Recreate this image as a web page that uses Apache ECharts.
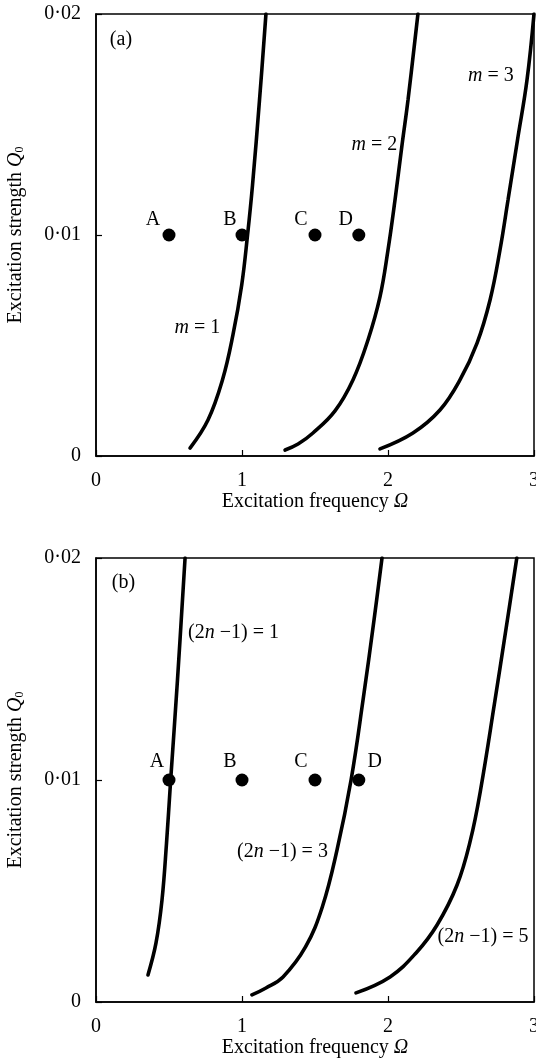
<!DOCTYPE html>
<html>
<head>
<meta charset="utf-8">
<script src="https://cdn.jsdelivr.net/npm/echarts@6/dist/echarts.min.js"></script>
<style>
  html, body { margin: 0; padding: 0; background: #fff; }
  #main { width: 536px; height: 1063px; }
</style>
</head>
<body>
<div id="main"></div>
<script>
// ---- data: [Omega, Q0] ----
const curveM1 = [[0.644, 0.00036], [0.767, 0.00163], [0.866, 0.00344], [0.938, 0.00548], [0.998, 0.00774], [1.038, 0.0100], [1.072, 0.01226], [1.12, 0.01611], [1.164, 0.0200]];
const curveM2 = [[1.295, 0.00027], [1.384, 0.00054], [1.486, 0.00104], [1.637, 0.00204], [1.76, 0.00344], [1.863, 0.00525], [1.945, 0.0072], [2.0, 0.00932], [2.048, 0.01158], [2.096, 0.01407], [2.137, 0.01611], [2.205, 0.0200]];
const curveM3 = [[1.945, 0.00032], [2.171, 0.00104], [2.356, 0.00208], [2.493, 0.00344], [2.61, 0.00511], [2.699, 0.00706], [2.767, 0.00932], [2.822, 0.01158], [2.887, 0.0143], [2.952, 0.01701], [3.0, 0.0200]];

const curveN1 = [[0.356, 0.00122], [0.411, 0.00266], [0.452, 0.00459], [0.483, 0.00716], [0.51, 0.00986], [0.558, 0.0145], [0.61, 0.0200]];
const curveN3 = [[1.068, 0.00032], [1.164, 0.00063], [1.281, 0.00113], [1.435, 0.00248], [1.55, 0.00428], [1.651, 0.00685], [1.747, 0.0100], [1.829, 0.0136], [1.904, 0.0172], [1.959, 0.0200]];
const curveN5 = [[1.781, 0.00041], [2.014, 0.00113], [2.192, 0.00221], [2.336, 0.00347], [2.473, 0.00527], [2.565, 0.0073], [2.634, 0.00955], [2.733, 0.0136], [2.804, 0.01662], [2.882, 0.0200]];

const pointNames = ['A', 'B', 'C', 'D'];
const pointOmega = [0.5, 1.0, 1.5, 1.8];
const pointQ = [0.01, 0.01, 0.01, 0.01];

// annotation text: [Omega, Q0, text]
const notesA = [[0.171, 0.01882, '(a)'], [0.695, 0.00579, '{i|m} = 1'], [1.907, 0.01407, '{i|m} = 2'], [2.705, 0.01719, '{i|m} = 3']];
const notesB = [[0.188, 0.01887, '(b)'], [0.942, 0.01662, '(2{i|n} \u22121) = 1'], [1.277, 0.00676, '(2{i|n} \u22121) = 3'], [2.651, 0.00293, '(2{i|n} \u22121) = 5']];

// label offsets of the A-D markers (px)
const labelOffA = [[-16, -15], [-12, -15], [-14, -15], [-13, -15]];
const labelOffB = [[-12, -18], [-12, -18], [-14, -18], [16, -18]];

const FONT = 'Liberation Serif';
const FS = 20;
const rich = {
  i: { fontFamily: FONT, fontSize: FS, fontStyle: 'italic', color: '#000' },
  a: { fontFamily: FONT, fontSize: FS, color: '#000' },
  s: { fontFamily: FONT, fontSize: 12, color: '#000', padding: [7, 0, 0, 0] }
};

var chartDom = document.getElementById('main');
var myChart = echarts.init(chartDom);

function xAxisFor(idx) {
  return {
    gridIndex: idx,
    type: 'value',
    min: 0,
    max: 3,
    interval: 1,
    name: '{a|Excitation frequency }{i|\u03A9}',
    nameLocation: 'middle',
    nameGap: 36,
    nameTextStyle: { rich: rich },
    axisLine: { lineStyle: { color: '#000', width: 1.5 } },
    axisTick: { inside: true, length: 6, lineStyle: { color: '#000', width: 1.2 } },
    axisLabel: { fontFamily: FONT, fontSize: FS, color: '#000', margin: 15 },
    splitLine: { show: false }
  };
}

function yAxisFor(idx) {
  return {
    gridIndex: idx,
    type: 'value',
    min: 0,
    max: 0.02,
    interval: 0.01,
    name: '{a|Excitation strength }{i|Q}{s|0}',
    nameLocation: 'middle',
    nameGap: 70,
    nameTextStyle: { rich: rich },
    axisLine: { lineStyle: { color: '#000', width: 1.5 } },
    axisTick: { inside: true, length: 6, lineStyle: { color: '#000', width: 1.2 } },
    axisLabel: {
      fontFamily: FONT, fontSize: FS, color: '#000', margin: 15,
      formatter: function (v) { return v === 0 ? '0' : v.toFixed(2).replace('.', '\u00B7'); }
    },
    splitLine: { show: false }
  };
}

function curve(data, idx) {
  return {
    type: 'line',
    xAxisIndex: idx,
    yAxisIndex: idx,
    data: data,
    smooth: 0.4,
    showSymbol: false,
    silent: true,
    lineStyle: { color: '#000', width: 3.6, cap: 'round' }
  };
}

function dots(idx, offs) {
  return {
    type: 'scatter',
    xAxisIndex: idx,
    yAxisIndex: idx,
    symbolSize: 13,
    itemStyle: { color: '#000', opacity: 1 },
    data: pointNames.map(function (n, k) {
      return {
        name: n,
        value: [pointOmega[k], pointQ[k]],
        label: { offset: offs[k] }
      };
    }),
    label: {
      show: true,
      position: 'inside',
      formatter: '{b}',
      fontFamily: FONT,
      fontSize: FS,
      color: '#000'
    },
    z: 5
  };
}

function notes(idx, list) {
  return {
    type: 'scatter',
    xAxisIndex: idx,
    yAxisIndex: idx,
    symbolSize: 0,
    silent: true,
    itemStyle: { opacity: 1 },
    data: list.map(function (d) { return { name: d[2], value: [d[0], d[1]] }; }),
    label: {
      show: true,
      position: 'inside',
      formatter: '{b}',
      fontFamily: FONT,
      fontSize: FS,
      color: '#000',
      rich: rich
    },
    z: 6
  };
}

var option = {
  backgroundColor: '#fff',
  animation: false,
  grid: [
    { left: 96, right: 2, top: 14, height: 442, show: true, borderColor: '#000', borderWidth: 1.5, outerBoundsMode: 'none', containLabel: false },
    { left: 96, right: 2, top: 558, height: 444, show: true, borderColor: '#000', borderWidth: 1.5, outerBoundsMode: 'none', containLabel: false }
  ],
  xAxis: [xAxisFor(0), xAxisFor(1)],
  yAxis: [yAxisFor(0), yAxisFor(1)],
  series: [
    curve(curveM1, 0), curve(curveM2, 0), curve(curveM3, 0),
    curve(curveN1, 1), curve(curveN3, 1), curve(curveN5, 1),
    dots(0, labelOffA), dots(1, labelOffB),
    notes(0, notesA), notes(1, notesB)
  ]
};

option && myChart.setOption(option);
</script>
</body>
</html>
